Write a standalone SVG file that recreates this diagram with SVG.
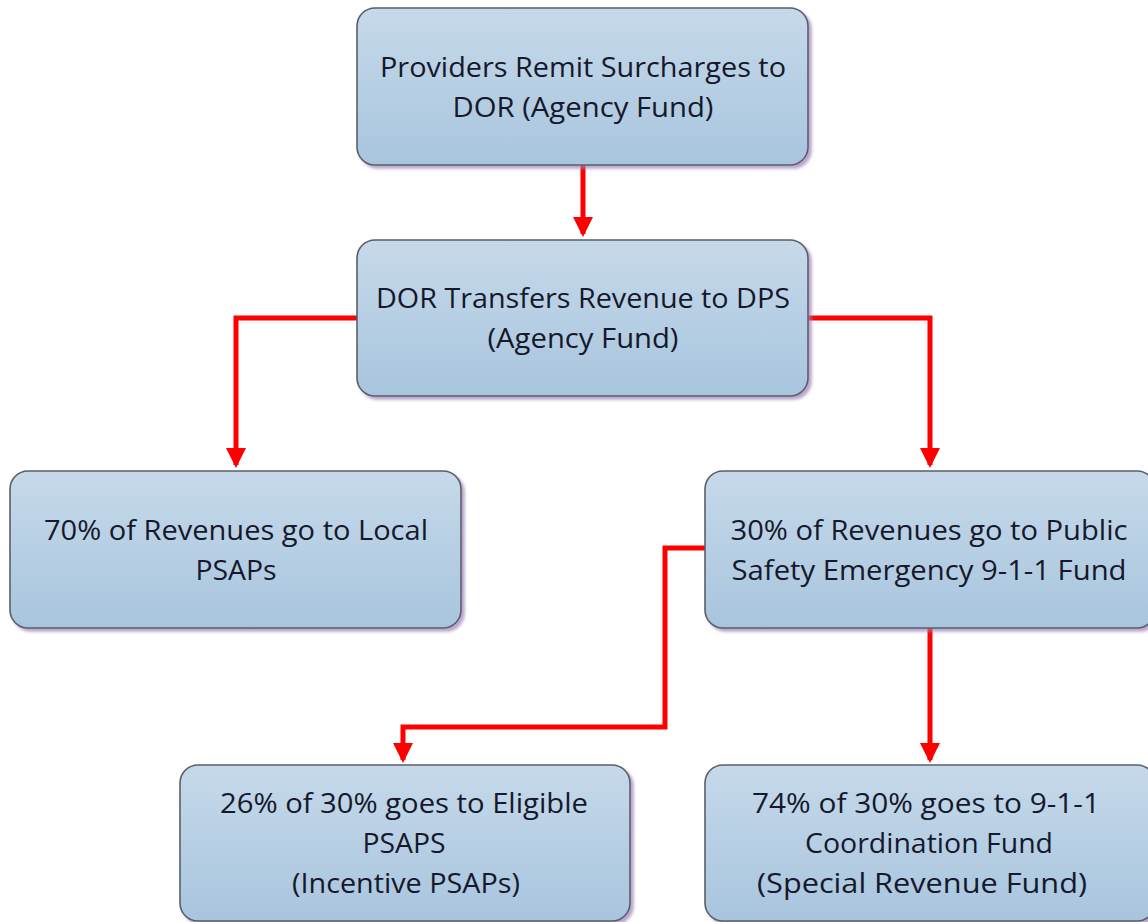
<svg xmlns="http://www.w3.org/2000/svg" width="1148" height="922" viewBox="0 0 1148 922">
<defs>
<linearGradient id="g" x1="0" y1="0" x2="0" y2="1">
<stop offset="0" stop-color="#c6d9ea"/>
<stop offset="1" stop-color="#a8c5de"/>
</linearGradient>
<marker id="ah" markerWidth="4" markerHeight="4" refX="3.4" refY="2" orient="auto" markerUnits="strokeWidth">
<path d="M0,0 L4,2 L0,4 Z" fill="#ff0000"/>
</marker>
<filter id="sh" x="-5%" y="-5%" width="112%" height="115%">
<feDropShadow dx="3" dy="3" stdDeviation="1.5" flood-color="#9b7fb8" flood-opacity="0.7"/>
</filter>
</defs>
<style>
.box{fill:url(#g);stroke:#5a5f66;stroke-width:1.6;filter:url(#sh)}
.t{font-family:"Open Sans","Noto Sans","Liberation Sans",sans-serif;font-size:27px;fill:#15192b;text-anchor:middle}
.c{fill:none;stroke:#ff0000;stroke-width:5;stroke-linejoin:miter}
</style>
<rect width="1148" height="922" fill="#ffffff"/>
<g id="connectors">
<path class="c" d="M583,165 V234" marker-end="url(#ah)"/>
<path class="c" d="M357,318 H236 V465" marker-end="url(#ah)"/>
<path class="c" d="M808,318 H930 V465" marker-end="url(#ah)"/>
<path class="c" d="M705,548 H665 V727 H403 V760" marker-end="url(#ah)"/>
<path class="c" d="M930,628 V760" marker-end="url(#ah)"/>
</g>
<g id="n1">
<rect class="box" x="357" y="8" width="451" height="157" rx="18"/>
<text class="t" x="583" y="77" textLength="406" lengthAdjust="spacingAndGlyphs">Providers Remit Surcharges to</text>
<text class="t" x="583" y="117" textLength="261" lengthAdjust="spacingAndGlyphs">DOR (Agency Fund)</text>
</g>
<g id="n2">
<rect class="box" x="357" y="240" width="451" height="156" rx="18"/>
<text class="t" x="583" y="308" textLength="414" lengthAdjust="spacingAndGlyphs">DOR Transfers Revenue to DPS</text>
<text class="t" x="583" y="348" textLength="191" lengthAdjust="spacingAndGlyphs">(Agency Fund)</text>
</g>
<g id="n3">
<rect class="box" x="10" y="471" width="451" height="157" rx="18"/>
<text class="t" x="236" y="540" textLength="384" lengthAdjust="spacingAndGlyphs">70% of Revenues go to Local</text>
<text class="t" x="236" y="580" textLength="81" lengthAdjust="spacingAndGlyphs">PSAPs</text>
</g>
<g id="n4">
<rect class="box" x="705" y="471" width="450" height="157" rx="18"/>
<text class="t" x="929" y="540" textLength="397" lengthAdjust="spacingAndGlyphs">30% of Revenues go to Public</text>
<text class="t" x="929" y="580" textLength="395" lengthAdjust="spacingAndGlyphs">Safety Emergency 9-1-1 Fund</text>
</g>
<g id="n5">
<rect class="box" x="180" y="765" width="450" height="156" rx="18"/>
<text class="t" x="404" y="813" textLength="368" lengthAdjust="spacingAndGlyphs">26% of 30% goes to Eligible</text>
<text class="t" x="404" y="853" textLength="83" lengthAdjust="spacingAndGlyphs">PSAPS</text>
<text class="t" x="406" y="893" textLength="228" lengthAdjust="spacingAndGlyphs">(Incentive PSAPs)</text>
</g>
<g id="n6">
<rect class="box" x="705" y="765" width="450" height="156" rx="18"/>
<text class="t" x="926" y="813" textLength="348" lengthAdjust="spacingAndGlyphs">74% of 30% goes to 9-1-1</text>
<text class="t" x="929" y="853" textLength="248" lengthAdjust="spacingAndGlyphs">Coordination Fund</text>
<text class="t" x="922" y="893" textLength="330" lengthAdjust="spacingAndGlyphs">(Special Revenue Fund)</text>
</g>
</svg>
